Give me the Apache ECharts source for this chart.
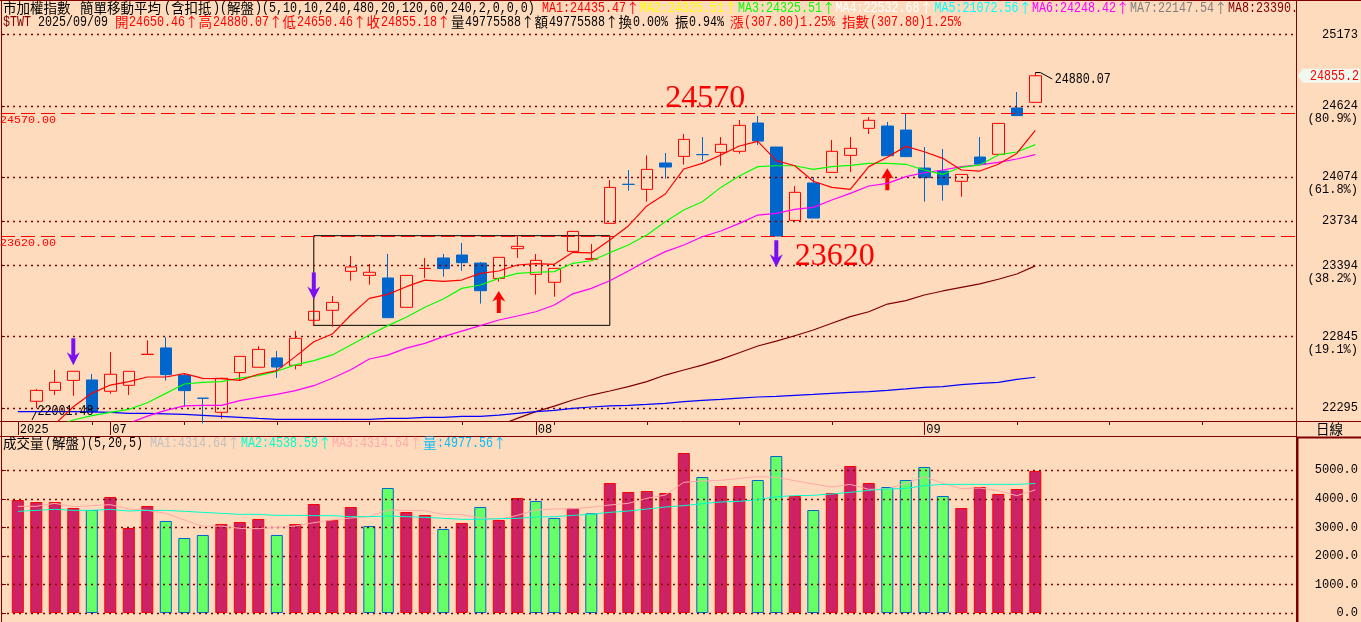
<!DOCTYPE html>
<html><head><meta charset="utf-8">
<style>html,body{margin:0;padding:0;background:#FFDBBD}#c{width:1361px;height:622px}</style>
<script src="https://cdn.jsdelivr.net/npm/echarts@6/dist/echarts.min.js"></script>
</head><body><div id="c"></div>
<script>
const dates=['06/24','06/25','06/26','06/27','06/30','07/01','07/02','07/03','07/04','07/07','07/08','07/09','07/10','07/11','07/14','07/15','07/16','07/17','07/18','07/21','07/22','07/23','07/24','07/25','07/28','07/29','07/30','07/31','08/01','08/04','08/05','08/06','08/07','08/08','08/11','08/12','08/13','08/14','08/15','08/18','08/19','08/20','08/21','08/22','08/25','08/26','08/27','08/28','08/29','09/01','09/02','09/03','09/04','09/05','09/08','09/09'];
const blankSlots=['+1','+2','+3','+4','+5','+6','+7','+8','+9','+10','+11','+12','+13'];
const opens=[22060,22347,22431,22508,22511,22424,22470,22708,22758,22547,22371,22262,22568,22609,22681,22624,22971,23048,23348,23317,23297,23071,23370,23451,23474,23412,23294,23523,23325,23264,23502,23441,23718,24019,23980,24183,24234,24248,24265,24273,24491,24306,23741,24029,24111,24242,24450,24468,24437,24144,24121,24042,24229,24250,24607,24650.46];
const closes=[22090,22431,22493,22578,22264,22555,22578,22709,22552,22429,22370,22524,22693,22747,22611,22832,23040,23109,23382,23341,22991,23317,23371,23369,23415,23199,23456,23541,23433,23371,23656,23446,23995,24018,24134,24152,24365,24247,24327,24473,24352,23620,23957,23759,24273,24296,24512,24239,24232,24070,24016,24095,24175,24488,24548,24855.18];
const lows=[22001.48,22293,22395,22390,22259,22406,22395,22708,22506,22306,22177,22213,22511,22609,22527,22593,22927,22922,23276,23245,22991,23071,23297,23307,23353,23099,23269,23451,23169,23153,23502,23441,23718,23970,23885,24062,24170,24198,24162,24255,24322,23620,23741,23759,24111,24113,24406,24239,24232,23885,23893,23923,24175,24250,24548,24650.46];
const highs=[22120,22442,22588,22578,22557,22727,22578,22817,22840,22563,22371,22529,22693,22771,22735,22889,23040,23158,23466,23405,23482,23317,23451,23482,23567,23420,23456,23626,23482,23371,23660,23559,24052,24129,24242,24260,24406,24383,24383,24514,24545,24306,24006,24075,24360,24383,24537,24499,24566,24306,24291,24095,24383,24488,24730,24880.07];
const ma1=[null,22100,22170,22305,22408,22472,22498,22534,22534,22560,22524,22521,22508,22555,22583,22691,22806,22865,23012,23140,23171,23230,23281,23271,23281,23333,23351,23397,23407,23402,23495,23490,23590,23698,23852,23944,24137,24180,24245,24314,24350,24201,24162,24042,23995,23980,24155,24227,24311,24270,24219,24129,24121,24173,24257,24435];
const ma3=[null,null,22150,22203,22236,22262,22285,22336,22408,22480,22493,22498,22526,22544,22578,22627,22660,22704,22781,22858,22930,22994,23071,23135,23217,23243,23294,23333,23341,23346,23410,23430,23492,23551,23628,23731,23821,23885,23995,24083,24155,24162,24162,24134,24155,24165,24180,24180,24173,24129,24096,24150,24168,24245,24268,24325];
const ma6=[null,null,null,null,null,null,22177,22233,22277,22311,22316,22316,22352,22377,22400,22429,22467,22524,22590,22673,22703,22757,22793,22845,22888,22930,22973,23004,23037,23089,23175,23217,23276,23351,23430,23500,23551,23615,23659,23718,23782,23795,23826,23841,23898,23949,24006,24026,24078,24108,24129,24155,24168,24188,24214,24248];
const ma4=[22267,22267,22267,22267,22265,22262,22254,22254,22250,22246,22239,22231,22223,22215,22208,22208,22208,22208,22208,22208,22215,22215,22223,22223,22231,22231,22241,22254,22267,22277,22292,22303,22311,22316,22323,22331,22344,22354,22362,22372,22380,22385,22393,22400,22408,22416,22421,22431,22442,22454,22460,22475,22485,22493,22516,22532];
const ma8=[null,null,null,null,null,null,null,null,null,null,null,null,null,null,null,null,null,null,null,null,null,null,null,null,null,null,22160,22215,22267,22310,22357,22395,22426,22460,22498,22549,22588,22626,22670,22721,22773,22811,22852,22896,22948,22999,23037,23096,23122,23166,23197,23225,23251,23287,23328,23390];
const volume=[3960,3889,3889,3679,3609,4065,2978,3749,3224,2628,2733,3119,3189,3294,2733,3119,3819,3259,3714,3048,4380,3539,3434,2943,3154,3714,3259,4030,3924,3329,3679,3492,4555,4240,4275,4205,5606,4765,4450,4450,4660,5501,4100,3609,4205,5151,4555,4415,4660,5116,4100,3679,4415,4170,4345,4977.56];
const volDown=[4,8,9,10,14,19,20,23,25,28,29,31,37,40,41,43,47,48,49,50];
const volMaA=[3738,3738,3843,3726,3761,3796,3644,3597,3492,3259,3037,3048,2967,2955,3002,3048,3165,3259,3329,3376,3609,3597,3586,3457,3446,3329,3282,3422,3609,3644,3656,3703,3784,3843,4018,4135,4579,4625,4649,4719,4777,4754,4637,4520,4415,4508,4333,4345,4544,4777,4544,4357,4380,4287,4111,4314];
const volMaB=[3562,3597,3632,3597,3597,3632,3574,3597,3597,3562,3527,3492,3457,3457,3422,3422,3411,3411,3376,3376,3399,3376,3352,3317,3282,3282,3305,3317,3364,3376,3422,3457,3527,3574,3644,3714,3761,3831,3889,3913,3971,4076,4111,4123,4170,4228,4298,4345,4368,4462,4508,4508,4508,4508,4508,4538];
const priceTicks=[25173,24624,24074,23734,23394,22845,22295];
const fibLabels=['','(80.9%)','(61.8%)','','(38.2%)','(19.1%)',''];
const volTicks=[0,1000,2000,3000,4000,5000];
const levels=[24570,23620];
const shortTicks=[4,9,14,19,24,29,34,39,44,54,59,64];
const monthTicks=[0,5,28,49];
const monthLabels=['2025','07','08','09'];
const downArrows=[[3,22729],[16,23235],[41,23484]];
const upArrows=[[26,23112],[47,24057]];
const notes=[[37,24676,'24570'],[44,23462,'23620']];
const boxRange=[16,23623,32,22932];

const bg='#FFDBBD',frame='#800000',mono='"Liberation Mono",monospace',cjk='"Noto Sans CJK TC",sans-serif',fs=11.67;
const chart=echarts.init(document.getElementById('c'),null,{renderer:'canvas'});
const xCats=dates.concat(blankSlots);
const dotted={color:frame,type:[2,4],width:1.4};
const arrowPath='path://M4.5 0H8.5V17L13 14L6.5 27L0 14L4.5 17Z';
function hl(arr){return arr.map(v=>({yAxis:v,lineStyle:dotted,label:{show:false}}));}
const maLine=(d,c)=>({type:'line',data:d,xAxisIndex:1,yAxisIndex:1,showSymbol:false,symbol:'none',connectNulls:false,lineStyle:{color:c,width:1.2},itemStyle:{color:c},silent:true,z:5});

// header text: half-width glyphs advance 7px, full-width glyphs 14px
function seg(x,y,s,fill){
 const out=[];let cx=x;
 s.match(/[\x00-\x7f]+|[^\x00-\x7f]+/g).forEach(r=>{
  const latin=/^[\x00-\x7f]/.test(r);
  out.push({type:'text',x:cx,y:y,z:20,silent:true,scaleY:latin?1.22:1,
   style:{text:r,fill:fill,fontFamily:latin?mono:cjk,fontSize:latin?fs:13.5,align:'left',verticalAlign:'middle'}});
  cx+=r.length*(latin?7:14);
 });
 return out;
}
function ln(x1,y1,x2,y2,w){return {type:'line',z:1,silent:true,shape:{x1,y1,x2,y2},style:{stroke:frame,lineWidth:w||1}};}

const graphics=[
 ln(0,0.5,1361,0.5),ln(1.5,0,1.5,622),ln(1296.5,0,1296.5,622),ln(0,421.5,1361,421.5),ln(0,436.5,1296,436.5),
 ln(1297.5,437,1297.5,622,2),ln(1296,437.5,1361,437.5,2),
 ...seg(3,8,'市加權指數 簡單移動平均(含扣抵)(解盤)(5,10,10,240,480,20,120,60,240,2,0,0,0)','#000'),
 ...seg(542,8,'MA1:24435.47↑','#FF0000'),...seg(640,8,'MA2:24325.51↑','#FFFF00'),...seg(738,8,'MA3:24325.51↑','#00FF00'),
 ...seg(835.5,8,'MA4:22532.68↑','#FFFFFF'),...seg(934.5,8,'MA5:21072.56↑','#00FFFF'),...seg(1032,8,'MA6:24248.42↑','#FF00FF'),
 ...seg(1130,8,'MA7:22147.54↑','#808080'),...seg(1228,8,'MA8:23390.','#800000'),
 ...seg(3,22,'$TWT','#800000'),...seg(38,22,'2025/09/09','#000'),
 ...seg(115,22,'開24650.46↑高24880.07↑低24650.46↑收24855.18↑','#FF0000'),
 ...seg(451,22,'量49775588↑額49775588↑換0.00% 振0.94%','#000'),
 ...seg(730,22,'漲(307.80)1.25% 指數(307.80)1.25%','#FF0000'),
 ...seg(1316,429,'日線','#000'),
 ...seg(3,443,'成交量(解盤)(5,20,5)','#000'),
 ...seg(150,443,'MA1:4314.64↑','#C0C0C0'),...seg(241,443,'MA2:4538.59↑','#00FFCC'),...seg(332,443,'MA3:4314.64↑','#FFAAAA'),...seg(423,443,'量:4977.56↑','#00BFFF'),
 ...seg(37.5,411,'22001.48','#000'),
 {type:'polyline',z:20,silent:true,shape:{points:[[32,420],[36,412]]},style:{stroke:'#000',fill:'none',lineWidth:1}}
];

const option={
 animation:false,backgroundColor:bg,
 grid:[
  {left:1,top:0,width:1295.5,height:421},
  {left:8.55,top:0,width:69*18.5,height:421},
  {left:1,top:437,width:1295.5,height:185},
  {left:8.55,top:437,width:69*18.5,height:185}
 ],
 xAxis:[
  {type:'value',gridIndex:0,min:0,max:1,show:false},
  {type:'category',gridIndex:1,data:xCats,position:'bottom',axisLine:{show:false},axisLabel:{show:false},splitLine:{show:false},
   axisTick:{show:true,alignWithLabel:true,length:4,lineStyle:{color:frame},interval:i=>shortTicks.includes(i)}},
  {type:'category',gridIndex:1,data:xCats,position:'bottom',axisLine:{show:false},splitLine:{show:false},
   axisTick:{show:true,alignWithLabel:true,length:14,lineStyle:{color:frame},interval:i=>monthTicks.includes(i)},
   axisLabel:{show:true,interval:i=>monthTicks.includes(i),formatter:(v,i)=>monthLabels[monthTicks.indexOf(i)]||'',align:'left',margin:2,padding:[0,0,0,2],fontFamily:mono,fontSize:12,color:'#000',lineHeight:13,verticalAlign:'top'}},
  {type:'value',gridIndex:2,min:0,max:1,show:false},
  {type:'category',gridIndex:3,data:xCats,show:false}
 ],
 yAxis:[
  {type:'value',gridIndex:0,position:'right',min:22195,max:25439,splitLine:{show:false},axisLine:{show:false},
   axisTick:{show:true,length:4,lineStyle:{color:frame},customValues:priceTicks},
   axisLabel:{show:true,customValues:priceTicks,align:'right',margin:63,fontFamily:mono,fontSize:12,lineHeight:13,color:'#000',
    formatter:v=>{const k=priceTicks.indexOf(v);return fibLabels[k]?'\n'+v+'\n'+fibLabels[k]:''+v;}}},
  {type:'value',gridIndex:1,min:22195,max:25439,show:false,splitLine:{show:false}},
  {type:'value',gridIndex:2,position:'right',min:-315,max:6167,splitLine:{show:false},axisLine:{show:false},
   axisTick:{show:true,length:5,lineStyle:{color:frame},customValues:volTicks},
   axisLabel:{show:true,customValues:volTicks,align:'right',margin:63,fontFamily:mono,fontSize:12,color:'#000',formatter:v=>v.toFixed(1)}},
  {type:'value',gridIndex:3,min:-315,max:6167,show:false,splitLine:{show:false}}
 ],
 graphic:graphics,
 series:[
  {type:'line',data:[],xAxisIndex:0,yAxisIndex:0,silent:true,z:1,
   markLine:{silent:true,symbol:['none','none'],animation:false,
    data:hl(priceTicks).concat(levels.map(v=>({yAxis:v,lineStyle:{color:'#FF0000',type:[14,6],width:1.2},
      label:{show:true,position:'insideStartBottom',distance:0,padding:[1,0,0,-1],formatter:v.toFixed(2),color:'#FF0000',fontFamily:mono,fontSize:fs}})))}},
  {type:'line',data:[],xAxisIndex:3,yAxisIndex:2,silent:true,z:1,
   markLine:{silent:true,symbol:['none','none'],animation:false,data:hl(volTicks)}},
  {type:'candlestick',xAxisIndex:1,yAxisIndex:1,barWidth:12,z:3,silent:true,
   data:dates.map((d,i)=>[opens[i],closes[i],lows[i],highs[i]]),
   itemStyle:{color:'transparent',color0:'#0066CC',borderColor:'#FF0000',borderColor0:'#0066CC',borderWidth:1},
   markArea:{silent:true,animation:false,itemStyle:{color:'transparent',borderColor:'#000',borderWidth:1},
    data:[[{coord:[boxRange[0],boxRange[1]]},{coord:[boxRange[2],boxRange[3]]}]]},
   markPoint:{silent:true,animation:false,
    data:downArrows.map(a=>({coord:a,symbol:arrowPath,symbolSize:[13,27],symbolKeepAspect:false,itemStyle:{color:'#7A10F2'},label:{show:false}}))
     .concat(upArrows.map(a=>({coord:a,symbol:arrowPath,symbolSize:[13,22],symbolRotate:180,itemStyle:{color:'#FF0000'},label:{show:false}})))
     .concat(notes.map(n=>({coord:[n[0],n[1]],symbol:'circle',symbolSize:0,itemStyle:{color:'transparent'},
       label:{show:true,position:'inside',offset:[3,0],formatter:n[2],color:'#FF0000',fontFamily:'"Liberation Serif",serif',fontSize:32}})))}},
  maLine(ma8,'#800000'),maLine(ma4,'#0000FF'),maLine(ma6,'#FF00FF'),maLine(ma3,'#00FF00'),maLine(ma1,'#FF0000'),
  {type:'bar',xAxisIndex:4,yAxisIndex:3,barWidth:12,z:3,silent:true,
   data:volume.map((v,i)=>{const d=volDown.includes(i);return {value:v,itemStyle:{color:d?'#66FF66':'#CC2266',borderColor:d?'#0066CC':'#FF0000',borderWidth:1}};})},
  {type:'line',data:volMaA,xAxisIndex:4,yAxisIndex:3,showSymbol:false,symbol:'none',lineStyle:{color:'#FFAAAA',width:1},silent:true,z:5},
  {type:'line',data:volMaB,xAxisIndex:4,yAxisIndex:3,showSymbol:false,symbol:'none',lineStyle:{color:'#00FFCC',width:1},silent:true,z:5}
 ]
};
chart.setOption(option);
// price tag and high-point note are anchored to the data through the axis scales
const last=dates.length-1;
const yC=chart.convertToPixel({yAxisIndex:1},closes[last]);
const pHigh=chart.convertToPixel({xAxisIndex:1,yAxisIndex:1},[last,highs[last]]);
const extra=[
 {type:'polygon',z:15,silent:true,shape:{points:[[1297.5,yC],[1303,yC-7],[1360,yC-7],[1360,yC+7],[1303,yC+7]]},style:{fill:'#F0F8F0'}},
 {type:'text',x:1359,y:yC,z:16,silent:true,scaleY:1.22,style:{text:closes[last].toFixed(1),fill:'#FF0000',fontFamily:mono,fontSize:fs,align:'right',verticalAlign:'middle'}},
 {type:'polyline',z:16,silent:true,shape:{points:[[pHigh[0],pHigh[1]],[pHigh[0]+5,pHigh[1]],[pHigh[0]+17,pHigh[1]+6.5]]},style:{stroke:'#000',fill:'none',lineWidth:1}},
 {type:'text',x:pHigh[0]+19.5,y:pHigh[1]+6.5,z:16,silent:true,scaleY:1.22,style:{text:highs[last].toFixed(2),fill:'#000',fontFamily:mono,fontSize:fs,align:'left',verticalAlign:'middle'}}
];
chart.setOption({graphic:graphics.concat(extra)});
</script></body></html>
